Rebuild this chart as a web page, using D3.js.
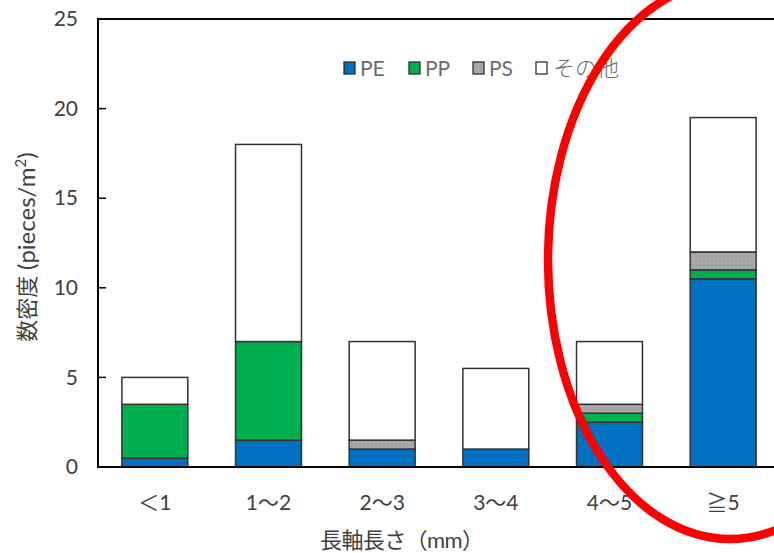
<!DOCTYPE html>
<html>
<head>
<meta charset="utf-8">
<script src="https://cdn.jsdelivr.net/npm/d3@7"></script>
<style>
  html, body { margin: 0; padding: 0; background: #fff; overflow: hidden; }
  svg { display: block; }
  text { font-family: "Lato", "Noto Sans CJK JP", sans-serif; }
</style>
</head>
<body>
<svg id="chart" width="774" height="553"></svg>
<script>
// Size classes along the long axis
const categories = ["＜1", "1～2", "2～3", "3～4", "4～5", "≧5"];

// Number density per polymer type (pieces/m²)
const pe    = [0.5, 1.5, 1.0, 1.0, 2.5, 10.5];
const pp    = [3.0, 5.5, 0.0, 0.0, 0.5, 0.5];
const ps    = [0.0, 0.0, 0.5, 0.0, 0.5, 1.0];
const other = [1.5, 11.0, 5.5, 4.5, 3.5, 7.5];

const seriesNames = ["PE", "PP", "PS", "その他"];
const yTicks = [0, 5, 10, 15, 20, 25];

const colors = { "PE": "#0070C0", "PP": "#00B050", "PS": "#A6A6A6", "その他": "#FFFFFF" };

const rows = categories.map((c, i) => ({
  cat: c, "PE": pe[i], "PP": pp[i], "PS": ps[i], "その他": other[i]
}));

const svg = d3.select("#chart");

const plot = { left: 98, right: 780, top: 19, bottom: 467 };

const x = d3.scaleBand()
  .domain(categories)
  .range([plot.left, plot.right])
  .paddingInner(0.42)
  .paddingOuter(0.21);

const y = d3.scaleLinear()
  .domain([0, 25])
  .range([plot.bottom, plot.top]);

// PS fill: light grey with a faint speckle
const defs = svg.append("defs");
const pat = defs.append("pattern")
  .attr("id", "psTex").attr("patternUnits", "userSpaceOnUse")
  .attr("width", 4).attr("height", 4);
pat.append("rect").attr("width", 4).attr("height", 4).attr("fill", "#A6A6A6");
pat.append("rect").attr("x", 0).attr("y", 0).attr("width", 1).attr("height", 1).attr("fill", "#999");
pat.append("rect").attr("x", 2).attr("y", 2).attr("width", 1).attr("height", 1).attr("fill", "#b3b3b3");
pat.append("rect").attr("x", 3).attr("y", 1).attr("width", 1).attr("height", 1).attr("fill", "#9c9c9c");
pat.append("rect").attr("x", 1).attr("y", 3).attr("width", 1).attr("height", 1).attr("fill", "#afafaf");

const fillFor = k => k === "PS" ? "url(#psTex)" : colors[k];

// Stacked bars
const stacked = d3.stack().keys(seriesNames)(rows);

svg.append("g").selectAll("g")
  .data(stacked)
  .join("g")
  .attr("fill", d => fillFor(d.key))
  .selectAll("rect")
  .data(d => d.filter(s => s[1] - s[0] > 0))
  .join("rect")
  .attr("x", d => x(d.data.cat))
  .attr("width", x.bandwidth())
  .attr("y", d => y(d[1]))
  .attr("height", d => y(d[0]) - y(d[1]))
  .attr("stroke", "#333")
  .attr("stroke-width", 1.5);

// Plot frame
svg.append("rect")
  .attr("x", plot.left).attr("y", plot.top)
  .attr("width", plot.right - plot.left).attr("height", plot.bottom - plot.top)
  .attr("fill", "none").attr("stroke", "#000").attr("stroke-width", 2);

// Y axis with inward ticks
const yAxis = svg.append("g")
  .attr("transform", `translate(${plot.left},0)`)
  .call(d3.axisLeft(y).tickValues(yTicks).tickSize(0).tickPadding(20));
yAxis.select(".domain").remove();
yAxis.selectAll("text")
  .attr("font-size", 21).attr("fill", "#404040")
  .style("font-family", "Lato, sans-serif");
svg.append("g").selectAll("line")
  .data(yTicks.filter(v => v > 0 && v < 25))
  .join("line")
  .attr("x1", plot.left).attr("x2", plot.left + 8)
  .attr("y1", d => y(d)).attr("y2", d => y(d))
  .attr("stroke", "#000").attr("stroke-width", 1.5);

// X axis labels
const xAxis = svg.append("g")
  .attr("transform", `translate(0,${plot.bottom})`)
  .call(d3.axisBottom(x).tickSize(0).tickPadding(25));
xAxis.select(".domain").remove();
xAxis.selectAll("text")
  .attr("font-size", 21).attr("fill", "#404040")
  .attr("dy", "0.35em").attr("y", 36);

// Axis titles
svg.append("text")
  .attr("x", 402).attr("y", 548)
  .attr("text-anchor", "middle")
  .attr("font-size", 22).attr("fill", "#404040")
  .attr("textLength", 164).attr("lengthAdjust", "spacing")
  .text("長軸長さ（mm）");

const yt = svg.append("text")
  .attr("transform", "translate(35,247) rotate(-90)")
  .attr("text-anchor", "middle")
  .attr("fill", "#404040");
yt.append("tspan").attr("font-size", 22).text("数密度 ");
yt.append("tspan").attr("font-size", 24).text("(pieces/m");
yt.append("tspan").attr("font-size", 15).attr("dy", -9).text("2");
yt.append("tspan").attr("font-size", 24).attr("dy", 9).text(")");

// Legend
const legendX = [344, 409, 473, 536];
const legend = svg.append("g").selectAll("g")
  .data(seriesNames)
  .join("g")
  .attr("transform", (d, i) => `translate(${legendX[i]},62)`);
legend.append("rect")
  .attr("width", 11).attr("height", 12)
  .attr("fill", d => fillFor(d))
  .attr("stroke", "#222").attr("stroke-width", 1.2);
legend.append("text")
  .attr("x", d => d === "その他" ? 17 : 16).attr("y", 6)
  .attr("dy", "0.36em")
  .attr("font-size", d => d === "その他" ? 22 : 21)
  .attr("font-weight", d => d === "その他" ? 300 : 400)
  .attr("fill", "#6d6d6d")
  .text(d => d);

// Highlight ring around the two largest size classes
svg.append("ellipse")
  .attr("cx", 730).attr("cy", 260)
  .attr("rx", 182).attr("ry", 279)
  .attr("fill", "none").attr("stroke", "#FF0000").attr("stroke-width", 8.5);
</script>
</body>
</html>
